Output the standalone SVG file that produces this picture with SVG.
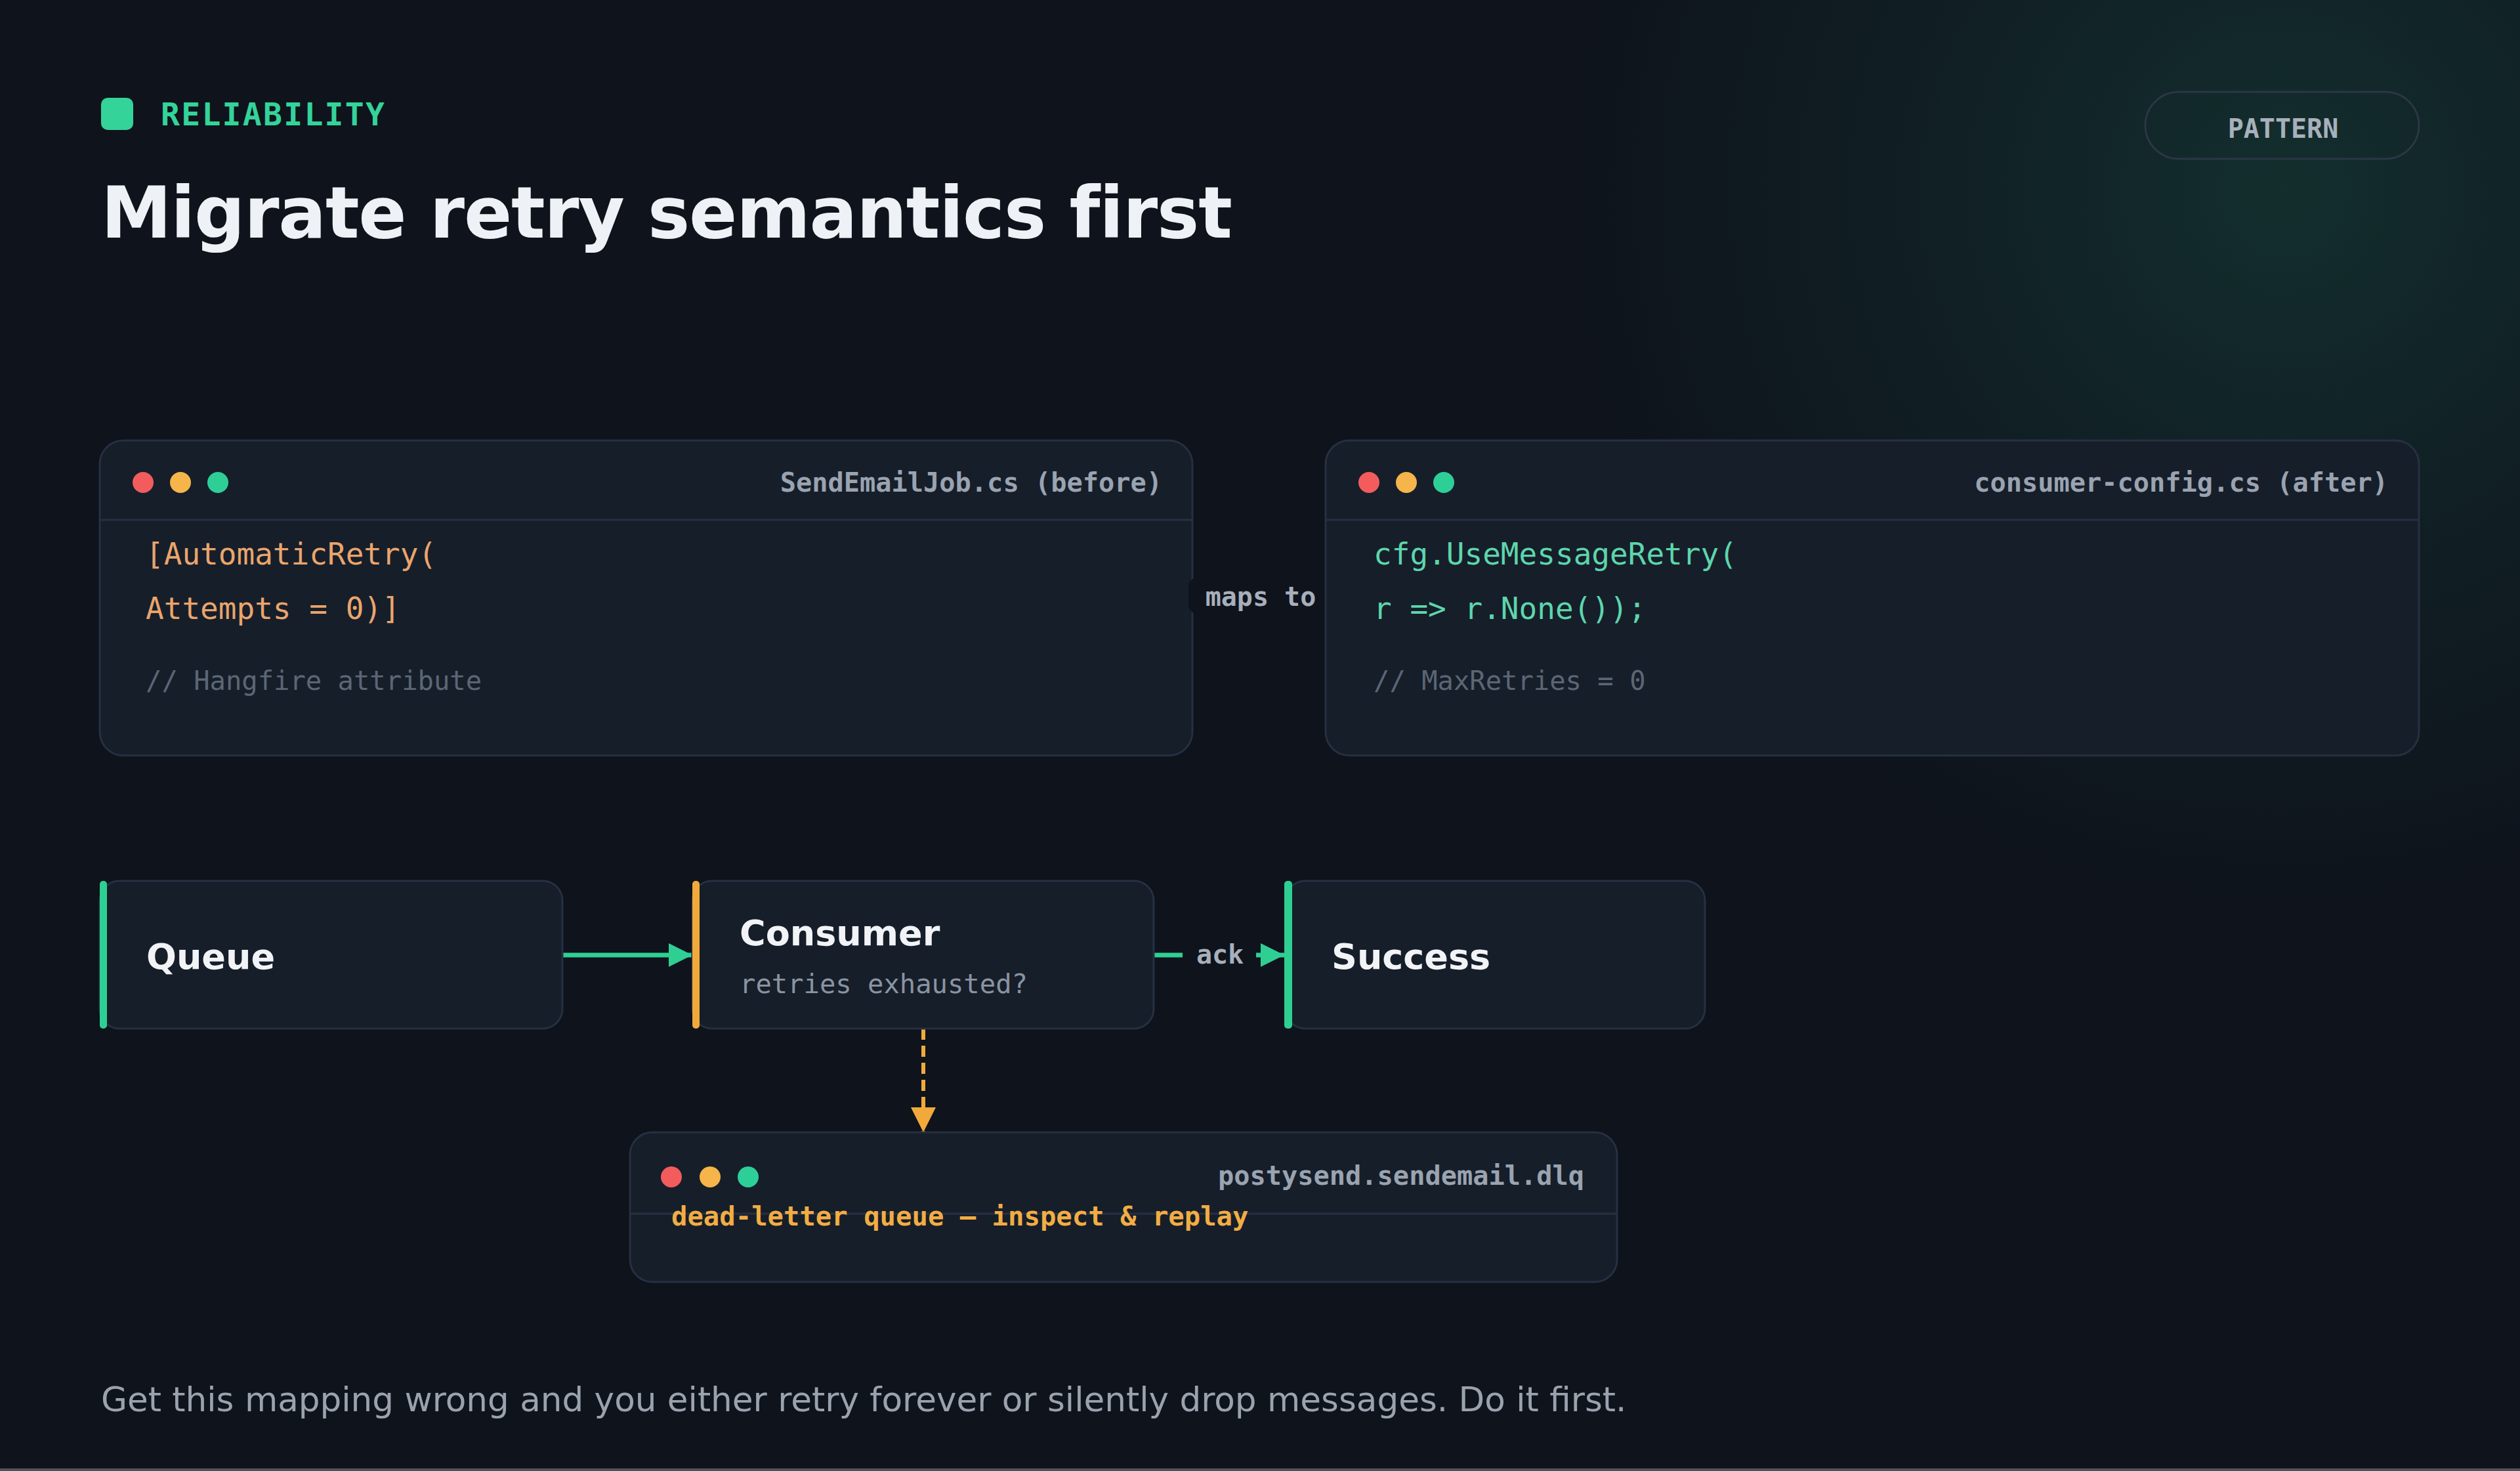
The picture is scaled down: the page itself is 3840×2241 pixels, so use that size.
<svg xmlns="http://www.w3.org/2000/svg" width="3840" height="2241" viewBox="0 0 3840 2241">
  <defs>
    <radialGradient id="glow" cx="3480" cy="290" r="1100" gradientUnits="userSpaceOnUse">
      <stop offset="0" stop-color="#34d399" stop-opacity="0.14"/>
      <stop offset="0.45" stop-color="#34d399" stop-opacity="0.07"/>
      <stop offset="1" stop-color="#34d399" stop-opacity="0"/>
    </radialGradient>
    <marker id="ahGreen" viewBox="0 0 10 10" refX="10" refY="5" markerWidth="36" markerHeight="36" markerUnits="userSpaceOnUse" orient="auto">
      <path d="M0,0 L10,5 L0,10 Z" fill="#2fcf93"/>
    </marker>
    <marker id="ahOrange" viewBox="0 0 10 10" refX="10" refY="5" markerWidth="38" markerHeight="38" markerUnits="userSpaceOnUse" orient="auto">
      <path d="M0,0 L10,5 L0,10 Z" fill="#f2a93b"/>
    </marker>
    <style>
      .card { fill: #161e2a; stroke: #263041; stroke-width: 3; }
      .divider { stroke: #263041; stroke-width: 3; }
      .mono { font-family: "DejaVu Sans Mono", "Liberation Mono", monospace; }
      .sans { font-family: "DejaVu Sans", "Liberation Sans", sans-serif; }
      .ftitle { font-family: "DejaVu Sans Mono", "Liberation Mono", monospace; font-weight: bold; font-size: 40.3px; fill: #9aa3b0; text-anchor: end; }
      .code { font-family: "DejaVu Sans Mono", "Liberation Mono", monospace; font-size: 46px; }
      .comment { font-family: "DejaVu Sans Mono", "Liberation Mono", monospace; font-size: 40.5px; fill: #5c6675; }
      .ntitle { font-family: "DejaVu Sans", "Liberation Sans", sans-serif; font-weight: bold; font-size: 54px; fill: #f1f3f6; }
      .nsub { font-family: "DejaVu Sans Mono", "Liberation Mono", monospace; font-size: 40.5px; fill: #8b93a0; }
      .elabel { font-family: "DejaVu Sans Mono", "Liberation Mono", monospace; font-weight: bold; font-size: 40px; fill: #a7afbb; }
      .red { fill: #f25c5c; }
      .yel { fill: #f5b54a; }
      .grn { fill: #2ecf97; }
    </style>
  </defs>

  <rect x="0" y="0" width="3840" height="2241" fill="#0e131c"/>
  <rect x="0" y="0" width="3840" height="2241" fill="url(#glow)"/>
  <rect x="0" y="2237" width="3840" height="4" fill="#4d535c"/>

  <g id="header">
    <rect x="154" y="149" width="49" height="49" rx="10" fill="#34d399"/>
    <text x="245" y="191" class="mono" font-weight="bold" font-size="48" letter-spacing="2.3" fill="#34d399">RELIABILITY</text>
    <text x="154" y="362" class="sans" font-weight="bold" font-size="108" letter-spacing="-1.2" fill="#eef1f5">Migrate retry semantics first</text>
  </g>

  <g id="pattern-pill">
    <rect x="3269" y="140" width="417" height="102" rx="51" fill="none" stroke="#2b3746" stroke-width="3"/>
    <text x="3479" y="210" class="mono" font-weight="bold" font-size="40" text-anchor="middle" fill="#a7b0bb">PATTERN</text>
  </g>

  <g id="before-card">
    <rect class="card" x="152" y="671" width="1665" height="480" rx="36"/>
    <line class="divider" x1="152" y1="792" x2="1817" y2="792"/>
    <circle class="red" cx="218" cy="735" r="16"/>
    <circle class="yel" cx="275" cy="735" r="16"/>
    <circle class="grn" cx="332" cy="735" r="16"/>
    <text class="ftitle" x="1771" y="749">SendEmailJob.cs (before)</text>
    <text class="code" x="222" y="860" fill="#eaa56c">[AutomaticRetry(</text>
    <text class="code" x="222" y="943" fill="#eaa56c">Attempts = 0)]</text>
    <text class="comment" x="222" y="1051">// Hangfire attribute</text>
  </g>

  <g id="maps-to">
    <rect x="1811" y="880" width="207" height="55" rx="14" fill="#0e131c"/>
    <text class="elabel" x="1921" y="923" text-anchor="middle">maps to</text>
  </g>

  <g id="after-card">
    <rect class="card" x="2020" y="671" width="1666" height="480" rx="36"/>
    <line class="divider" x1="2020" y1="792" x2="3686" y2="792"/>
    <circle class="red" cx="2086" cy="735" r="16"/>
    <circle class="yel" cx="2143" cy="735" r="16"/>
    <circle class="grn" cx="2200" cy="735" r="16"/>
    <text class="ftitle" x="3639" y="749">consumer-config.cs (after)</text>
    <text class="code" x="2093" y="860" fill="#5dd6ab">cfg.UseMessageRetry(</text>
    <text class="code" x="2093" y="943" fill="#5dd6ab">r =&gt; r.None());</text>
    <text class="comment" x="2093" y="1051">// MaxRetries = 0</text>
  </g>

  <g id="connectors">
    <line x1="857" y1="1455" x2="1055" y2="1455" stroke="#2fcf93" stroke-width="7" marker-end="url(#ahGreen)"/>
    <line x1="1758" y1="1455" x2="1957" y2="1455" stroke="#2fcf93" stroke-width="7" marker-end="url(#ahGreen)"/>
    <rect x="1802" y="1425" width="112" height="60" fill="#0e131c"/>
    <text class="elabel" x="1859" y="1468" text-anchor="middle">ack</text>
    <line x1="1407" y1="1567" x2="1407" y2="1725" stroke="#f2a93b" stroke-width="6" stroke-dasharray="17 9" marker-end="url(#ahOrange)"/>
  </g>

  <g id="queue-node">
    <rect class="card" x="152" y="1342" width="705" height="225" rx="30"/>
    <rect x="152" y="1342" width="11" height="225" rx="5" fill="#2fcf93"/>
    <text class="ntitle" x="223" y="1476">Queue</text>
  </g>

  <g id="consumer-node">
    <rect class="card" x="1055" y="1342" width="703" height="225" rx="30"/>
    <rect x="1055" y="1342" width="11" height="225" rx="5" fill="#f2a93b"/>
    <text class="ntitle" x="1127" y="1440">Consumer</text>
    <text class="nsub" x="1127" y="1513">retries exhausted?</text>
  </g>

  <g id="success-node">
    <rect class="card" x="1959" y="1342" width="639" height="225" rx="30"/>
    <rect x="1957" y="1342" width="12" height="225" rx="5" fill="#2fcf93"/>
    <text class="ntitle" x="2029" y="1476">Success</text>
  </g>

  <g id="dlq-card">
    <rect class="card" x="960" y="1725" width="1504" height="228" rx="34"/>
    <line class="divider" x1="960" y1="1849" x2="2464" y2="1849"/>
    <circle class="red" cx="1023" cy="1793" r="16"/>
    <circle class="yel" cx="1082" cy="1793" r="16"/>
    <circle class="grn" cx="1140" cy="1793" r="16"/>
    <text class="ftitle" x="2414" y="1805">postysend.sendemail.dlq</text>
    <text class="mono" x="1023" y="1867" font-weight="bold" font-size="40.6" fill="#f2ad43">dead-letter queue — inspect &amp; replay</text>
  </g>

  <text x="154" y="2150" class="sans" font-size="51.6" fill="#9aa2ae">Get this mapping wrong and you either retry forever or silently drop messages. Do it first.</text>
</svg>
